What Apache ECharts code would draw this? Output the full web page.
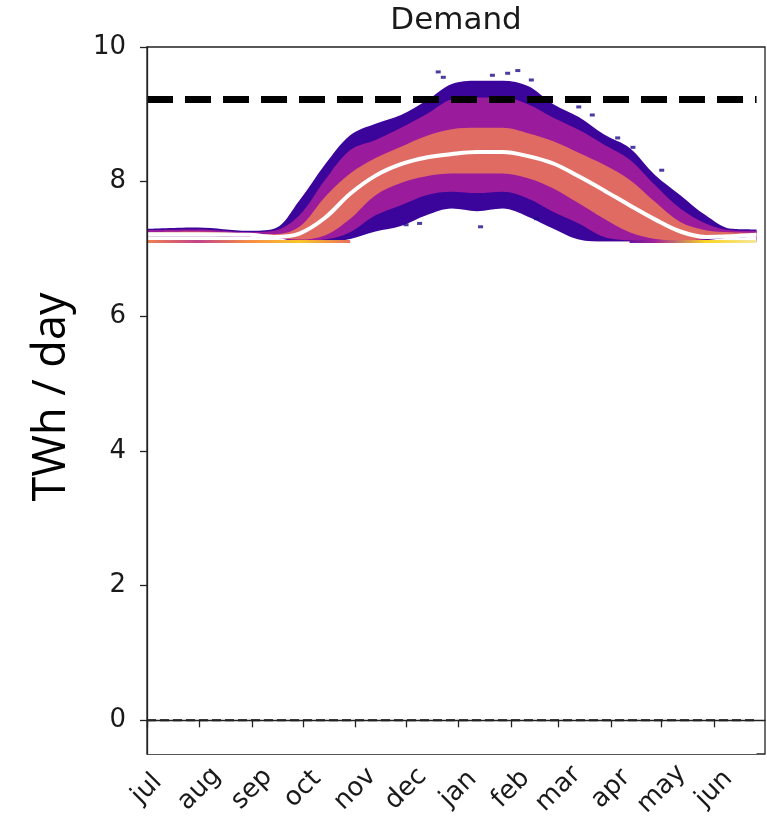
<!DOCTYPE html>
<html><head><meta charset="utf-8">
<script src="https://cdn.jsdelivr.net/npm/echarts@6/dist/echarts.min.js"></script>
<style>html,body{margin:0;padding:0;background:#fff}#c{width:767px;height:839px}</style>
</head><body><div id="c"></div>
<script>
// day of the season (0 = 1 July)
const days   = [0,    30,   60,   75,   90,   105,  120,  135,  150,  165,  180,  195,  210,  225,  240,  255,  270,  285,  300,  315,  330,  345,  360];
// envelopes / density bands of the 2-D histogram (TWh/day)
const maxE   = [7.30, 7.32, 7.27, 7.30, 7.72, 8.25, 8.69, 8.86, 8.99, 9.20, 9.45, 9.50, 9.50, 9.42, 9.15, 8.96, 8.70, 8.50, 8.10, 7.80, 7.50, 7.30, 7.29];
const hi2    = [7.28, 7.29, 7.25, 7.27, 7.50, 8.02, 8.47, 8.62, 8.80, 9.00, 9.22, 9.25, 9.25, 9.15, 8.95, 8.77, 8.55, 8.33, 7.95, 7.60, 7.38, 7.28, 7.27];
const hi1    = [7.25, 7.26, 7.23, 7.22, 7.33, 7.77, 8.12, 8.35, 8.52, 8.68, 8.78, 8.80, 8.80, 8.72, 8.60, 8.43, 8.25, 8.03, 7.70, 7.40, 7.28, 7.25, 7.24];
const median = [7.22, 7.22, 7.21, 7.18, 7.23, 7.46, 7.82, 8.09, 8.26, 8.36, 8.41, 8.44, 8.44, 8.38, 8.27, 8.08, 7.87, 7.65, 7.44, 7.26, 7.18, 7.19, 7.21];
const lo1    = [7.20, 7.20, 7.19, 7.17, 7.14, 7.20, 7.45, 7.80, 7.98, 8.08, 8.12, 8.12, 8.12, 8.05, 7.90, 7.68, 7.45, 7.25, 7.15, 7.13, 7.15, 7.18, 7.19];
const lo2    = [7.19, 7.19, 7.18, 7.17, 7.12, 7.14, 7.25, 7.50, 7.65, 7.80, 7.85, 7.83, 7.85, 7.75, 7.55, 7.38, 7.18, 7.13, 7.12, 7.12, 7.14, 7.17, 7.18];
const minE   = [7.19, 7.19, 7.18, 7.17, 7.11, 7.11, 7.15, 7.26, 7.34, 7.50, 7.60, 7.56, 7.60, 7.48, 7.30, 7.14, 7.11, 7.11, 7.11, 7.11, 7.13, 7.17, 7.18];
// lowest demand level (values pile up here)
const floorValue = 7.11;
// values piled at the demand floor (null = none visible)
const floorLevel = [7.11, 7.11, 7.11, 7.11, 7.11, 7.11, 7.11, null, null, null, null, null, null, null, null, null, null, 7.11, 7.11, 7.11, 7.11, 7.11, 7.11];
// isolated bins outside the main cloud
const outDays = [172, 175, 204, 213, 219, 227, 255, 263, 278, 287, 304, 153, 161, 197, 230];
const outVals = [9.63, 9.55, 9.58, 9.61, 9.65, 9.51, 9.11, 8.99, 8.65, 8.51, 8.17, 7.36, 7.38, 7.33, 7.45];

const refLevel = 9.22;
const zeroLevel = 0;
const lineEnd = 360;

const monthDays  = [0, 31, 62, 92, 123, 153, 184, 215, 243, 274, 304, 335];
const monthNames = ['jul','aug','sep','oct','nov','dec','jan','feb','mar','apr','may','jun'];
const yTicks = [0, 2, 4, 6, 8, 10];

// styles
const cOuter = '#3b049a', cMid = '#9a1b9c', cCore = '#df6b63';
const floorColors = ['#f0804f','#c2448a','#f58c45','#fcc52a','#e8715c','#e8715c','#e8715c','#e8715c','#e8715c','#3d049b','#a0229a','#fbd524','#f5e79a'];
const S = 0.35;
const axisCol = '#222';
const txtCol = '#1a1a1a';

const pts = arr => days.map((d, i) => [d, arr[i]]);
const layer = (name, arr, color, origin) => ({
  name, type: 'line', data: pts(arr), smooth: S, symbol: 'none', z: 2,
  lineStyle: { width: 0, opacity: 0 }, areaStyle: { color, opacity: 1, origin }
});

const chart = echarts.init(document.getElementById('c'), null, { renderer: 'canvas' });
chart.setOption({
  animation: false,
  backgroundColor: '#fff',
  grid: { left: 147, right: 2, top: 47, bottom: 85, show: true, borderColor: axisCol, borderWidth: 1.3, backgroundColor: 'transparent' },
  xAxis: {
    type: 'value', min: 0, max: 365, z: 20,
    splitLine: { show: false },
    axisLine: { show: true, lineStyle: { color: axisCol, width: 1.3 } },
    axisTick: { show: true, length: 7, customValues: monthDays, lineStyle: { color: axisCol, width: 1.3 } },
    axisLabel: {
      customValues: monthDays,
      formatter: v => monthNames[monthDays.indexOf(v)],
      rotate: 45, align: 'center', verticalAlign: 'middle', margin: 35,
      fontSize: 26, fontFamily: 'DejaVu Sans', color: txtCol
    }
  },
  yAxis: {
    type: 'value', min: -0.5, max: 10, z: 20,
    splitLine: { show: false },
    axisLine: { show: true, lineStyle: { color: axisCol, width: 1.3 } },
    axisTick: { show: true, length: 7, customValues: yTicks, lineStyle: { color: axisCol, width: 1.3 } },
    axisLabel: { customValues: yTicks, fontSize: 26, margin: 21, fontFamily: 'DejaVu Sans', color: txtCol }
  },
  visualMap: [{
    type: 'continuous', show: false, seriesIndex: 6, dimension: 0,
    min: 0, max: lineEnd, inRange: { color: floorColors }
  }],
  series: [
    layer('max', maxE, cOuter, floorValue),
    layer('hi2', hi2, cMid, floorValue),
    layer('hi1', hi1, cCore, floorValue),
    layer('lo1', lo1, cMid, floorValue),
    layer('lo2', lo2, cOuter, floorValue),
    layer('min', minE, '#ffffff', 'start'),
    { name: 'floor', type: 'line', data: days.map((d, i) => [d, floorLevel[i] == null ? '-' : floorLevel[i]]),
      symbol: 'none', z: 3, connectNulls: false, lineStyle: { width: 3 } },
    { name: 'outliers', type: 'scatter', data: outDays.map((d, i) => [d, outVals[i]]), symbol: 'rect', symbolSize: [5, 3],
      itemStyle: { color: '#1b0c8a' }, z: 3 },
    { name: 'median', type: 'line', data: pts(median), smooth: S, symbol: 'none', z: 4,
      lineStyle: { color: '#fff', width: 4 } },
    { name: 'ref', type: 'line', data: [[0, refLevel], [lineEnd, refLevel]], symbol: 'none', z: 5,
      lineStyle: { color: '#000', width: 7, type: [26, 12] } },
    { name: 'zero', type: 'line', data: [[0, zeroLevel], [lineEnd, zeroLevel]], symbol: 'none', z: 5,
      lineStyle: { color: '#000', width: 2, type: [9, 4] } }
  ],
  graphic: [
    { type: 'text', x: 456, y: 21, z: 10,
      style: { text: 'Demand', fontSize: 31, fontFamily: 'DejaVu Sans', fill: txtCol, align: 'center', verticalAlign: 'middle', textAlign: 'center', textVerticalAlign: 'middle' } },
    { type: 'text', x: 52, y: 397, rotation: Math.PI / 2, z: 10,
      style: { text: 'TWh / day', fontSize: 45, fontFamily: 'Open Sans', fill: '#000', align: 'center', verticalAlign: 'middle', textAlign: 'center', textVerticalAlign: 'middle' } }
  ]
});
</script>
</body></html>
